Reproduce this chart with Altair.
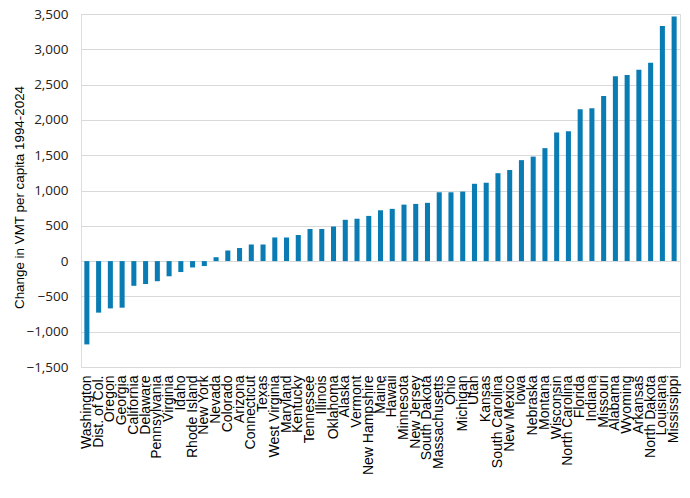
import altair as alt
import pandas as pd

# Change in vehicle miles travelled per capita, 1994-2024, by state (sorted ascending)
states = [
    "Washington", "Dist. of Col.", "Oregon", "Georgia", "California", "Delaware",
    "Pennsylvania", "Virginia", "Idaho", "Rhode Island", "New York", "Nevada",
    "Colorado", "Arizona", "Connecticut", "Texas", "West Virginia", "Maryland",
    "Kentucky", "Tennessee", "Illinois", "Oklahoma", "Alaska", "Vermont",
    "New Hampshire", "Maine", "Hawaii", "Minnesota", "New Jersey", "South Dakota",
    "Massachusetts", "Ohio", "Michigan", "Utah", "Kansas", "South Carolina",
    "New Mexico", "Iowa", "Nebraska", "Montana", "Wisconsin", "North Carolina",
    "Florida", "Indiana", "Missouri", "Alabama", "Wyoming", "Arkansas",
    "North Dakota", "Louisiana", "Mississippi",
]
vmt_change = [
    -1180, -730, -670, -660, -350, -325,
    -285, -215, -155, -90, -70, 55,
    150, 185, 235, 235, 335, 335,
    370, 455, 455, 490, 585, 600,
    640, 720, 740, 800, 810, 825,
    975, 975, 985, 1095, 1110, 1245,
    1290, 1430, 1480, 1600, 1820, 1840,
    2150, 2165, 2340, 2620, 2635, 2710,
    2810, 3330, 3465,
]
y_ticks = list(range(-1500, 3501, 500))

df = pd.DataFrame({"state": states, "change": vmt_change})

chart = (
    alt.Chart(df)
    .mark_bar(color="#0A7CB4")
    .encode(
        x=alt.X(
            "state:N",
            sort=None,
            title=None,
            scale=alt.Scale(paddingInner=0.57, paddingOuter=0.285),
            axis=alt.Axis(
                labelAngle=-90,
                labelFont="Liberation Sans",
                labelFontSize=14,
                labelColor="#000000",
                labelPadding=8,
                labelOverlap=False,
                labelLimit=300,
                domain=False,
                ticks=False,
                grid=False,
            ),
        ),
        y=alt.Y(
            "change:Q",
            title="Change in VMT per capita 1994-2024",
            scale=alt.Scale(domain=[-1500, 3500], nice=False),
            axis=alt.Axis(
                values=y_ticks,
                format=",.0f",
                labelFont="Open Sans",
                labelFontSize=13.5,
                labelColor="#222222",
                labelPadding=13,
                titleFont="Liberation Sans",
                titleFontSize=13.4,
                titleFontWeight="normal",
                titleColor="#000000",
                titleX=-55,
                titleY=183,
                titleAnchor="middle",
                titleAlign="center",
                domain=False,
                ticks=False,
                grid=True,
                gridColor="#D9D9D9",
                gridWidth=1,
            ),
        ),
    )
    .properties(
        width=599,
        height=353,
        autosize=alt.AutoSizeParams(type="none"),
        padding={"left": 81, "top": 14, "right": 10, "bottom": 131},
    )
    .configure_view(stroke=None)
    .configure(background="#FFFFFF")
)

chart.save("out.html", embed_options={"renderer": "svg", "actions": False})
